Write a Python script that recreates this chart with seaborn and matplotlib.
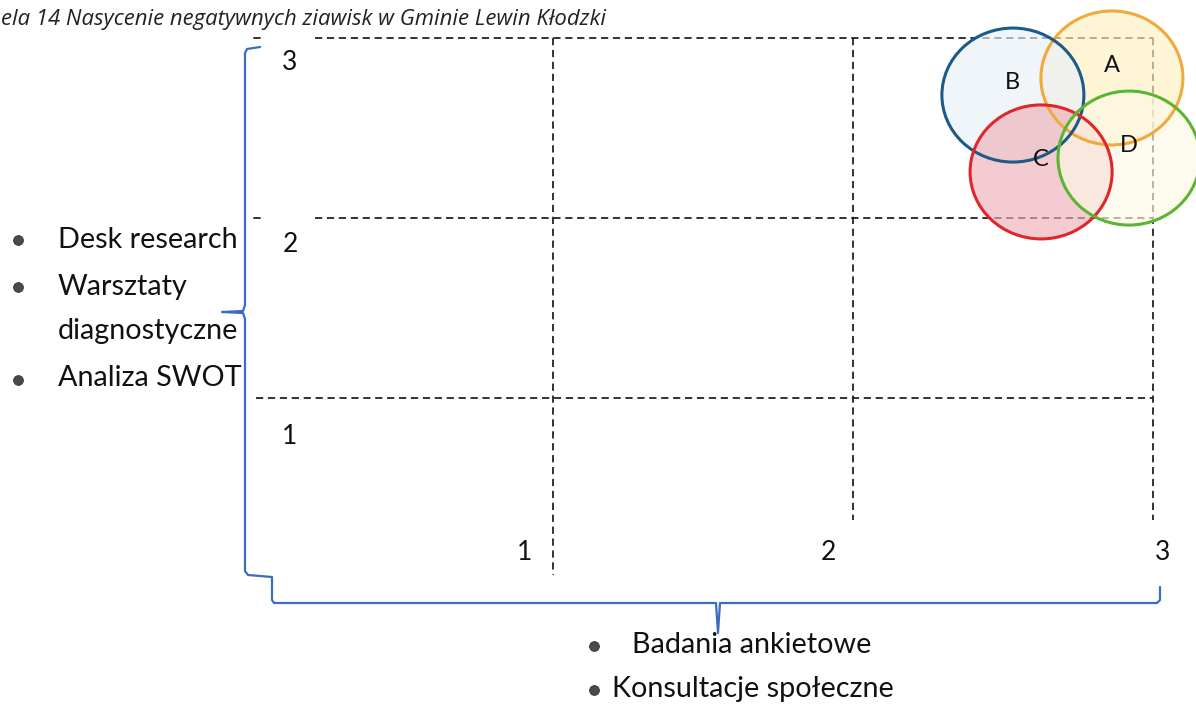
import numpy as np
import pandas as pd
import matplotlib
matplotlib.use("Agg")
import matplotlib.pyplot as plt
from matplotlib.patches import Ellipse
import seaborn as sns

# ---------------- data ----------------
x_levels = [1, 2, 3]
y_levels = [1, 2, 3]
x_tick_labels = ["1", "2", "3"]
y_tick_labels = ["1", "2", "3"]

circle_labels = ["A", "B", "C", "D"]
circle_x = [2.863, 2.533, 2.627, 2.920]
circle_y = [2.778, 2.683, 2.256, 2.333]
circle_edge = ["#f2a93b", "#1d5a86", "#e1262b", "#5cb531"]
circle_fill = ["#fdf0c0", "#e9f0f8", "#eeb0b8", "#fdf9e6"]

left_methods = ["Desk research", "Warsztaty\ndiagnostyczne", "Analiza SWOT"]
bottom_methods = ["Badania ankietowe", "Konsultacje społeczne"]
# the source shows the caption cut at the page edge
title = "ela 14 Nasycenie negatywnych ziawisk w Gminie Lewin Kłodzki"

# ---------------- setup ----------------
sns.set_theme(style="white")
plt.rcParams["font.family"] = ["Lato", "DejaVu Sans"]

W, H = 1196, 705
fig = plt.figure(figsize=(W / 100, H / 100), dpi=100)
ax = fig.add_axes([0, 0, 1, 1])
X0, XS = 253, 300   # px of x=0, px per unit
Y0, YS = 578, 180   # px of y=0, px per unit

def px(p):
    return (p - X0) / XS

def py(p):
    return (Y0 - p) / YS

ax.set_xlim(px(0), px(W))
ax.set_ylim(py(H), py(0))
ax.axis("off")

dash = dict(color="#222222", lw=1.3, linestyle=(0, (4, 2.6)))
# horizontal grid lines
for yv in y_levels:
    start = px(256) if yv == 1 else px(315)
    ax.plot([start, x_levels[-1]], [yv, yv], **dash)
    if yv != 1:
        ax.plot([px(254), px(260)], [yv, yv], color="#222222", lw=1.3)
# vertical grid lines
for xv in x_levels:
    bottom = py(575) if xv == 1 else py(520)
    ax.plot([xv, xv], [y_levels[-1], bottom], **dash)

# tick labels
ytick_px = [437, 245, 62]
xtick_px = [525, 828, 1163]
for p, lab in zip(ytick_px, y_tick_labels):
    ax.text(px(290), py(p), lab, fontsize=19, ha="center", va="center", color="#111111")
for p, lab in zip(xtick_px, x_tick_labels):
    ax.text(px(p), py(553), lab, fontsize=19, ha="center", va="center", color="#111111")

# circles
for lab, cx, cy, ec, fc in zip(circle_labels, circle_x, circle_y, circle_edge, circle_fill):
    ax.add_patch(Ellipse((cx, cy), 2 * 71 / XS, 2 * 67 / YS, facecolor=fc, alpha=0.65,
                         edgecolor="none", zorder=3))
for lab, cx, cy, ec, fc in zip(circle_labels, circle_x, circle_y, circle_edge, circle_fill):
    ax.add_patch(Ellipse((cx, cy), 2 * 71 / XS, 2 * 67 / YS, facecolor="none",
                         edgecolor=ec, lw=2.2, zorder=4))
    ax.text(cx, cy + 0.07, lab, fontsize=17, ha="center", va="center", color="#111111", zorder=5)

# braces
bc = "#3a6cc0"
lx = [260, 247, 245, 245, 243, 222, 243, 245, 245, 248, 272, 272, 274, 716, 718, 720, 1157, 1160, 1160]
ly = [47, 49, 53, 305, 311, 312, 313, 319, 571, 575, 577, 600, 603, 603, 633, 603, 603, 600, 587]
ax.plot([px(v) for v in lx], [py(v) for v in ly], color=bc, lw=1.6, solid_joinstyle="round")

# bullet lists
bul = pd.DataFrame({
    "x": [px(18)] * 3 + [px(594)] * 2,
    "y": [py(v) for v in (240, 287, 380)] + [py(646), py(690)],
})
sns.scatterplot(data=bul, x="x", y="y", s=50, color="#4a4a4a", edgecolor="#333333", ax=ax, zorder=5)
fs = 20.7
ax.text(px(58), py(240), left_methods[0], fontsize=fs, ha="left", va="center", color="#111111")
ax.text(px(58), py(287), left_methods[1].split("\n")[0], fontsize=fs, ha="left", va="center", color="#111111")
ax.text(px(58), py(331), left_methods[1].split("\n")[1], fontsize=fs, ha="left", va="center", color="#111111")
ax.text(px(58), py(378), left_methods[2], fontsize=fs, ha="left", va="center", color="#111111")
ax.text(px(632), py(645), bottom_methods[0], fontsize=fs, ha="left", va="center", color="#111111")
ax.text(px(612), py(689), bottom_methods[1], fontsize=fs, ha="left", va="center", color="#111111")

# caption
ax.text(px(1), py(20), title, fontsize=15.9, style="italic", ha="left", va="center",
        color="#222222", family=["Open Sans", "DejaVu Sans"])

fig.savefig("out.png", dpi=100)
